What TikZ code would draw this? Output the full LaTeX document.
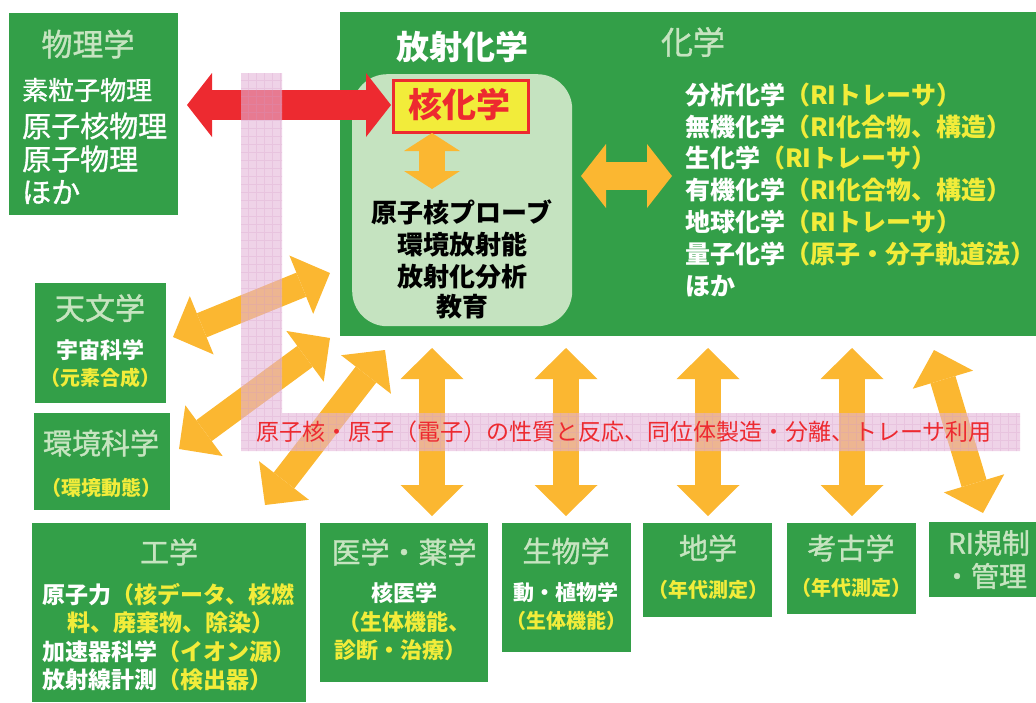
\documentclass[tikz,border=0pt]{standalone}
\usepackage{fontspec}
\setmainfont{Noto Sans CJK JP}
\newfontfamily\medfont[FakeBold=1.2]{Noto Sans CJK JP}
\usetikzlibrary{arrows.meta}
\definecolor{grn}{RGB}{51,159,72}
\definecolor{ttl}{RGB}{198,228,192}
\definecolor{lgrn}{RGB}{197,227,192}
\definecolor{ylw}{RGB}{242,236,58}
\definecolor{org}{RGB}{251,183,49}
\definecolor{rd}{RGB}{237,42,48}
\definecolor{pnk}{RGB}{228,180,216}
\definecolor{pnkline}{RGB}{212,150,198}
\newcommand\fs[1]{\fontsize{#1}{#1}\selectfont}
\begin{document}
\begin{tikzpicture}[x=1pt,y=-1pt,
  gbox/.style={fill=grn,draw=none,anchor=north west,inner sep=0pt},
  ttlt/.style={text=ttl,inner sep=0pt,font=\medfont\fs{29}},
  wl/.style={text=white,inner sep=0pt,anchor=west},
  yl/.style={text=ylw,inner sep=0pt},
  fatarrow/.style={draw=org,line width=#1,line cap=butt}
]
\useasboundingbox (0,0) rectangle (1036,702);
% boxes
\node[gbox,minimum width=169pt,minimum height=202pt] (phys) at (9,13) {};
\node[gbox,minimum width=696pt,minimum height=324pt] (chem) at (340,12) {};
\node[fill=lgrn,rounded corners=35pt,anchor=north west,minimum width=220pt,minimum height=252pt,inner sep=0pt] (radbox) at (352,74) {};
\node[fill=ylw,draw=rd,line width=3pt,anchor=north west,minimum width=135pt,minimum height=52pt,inner sep=0pt] (nucbox) at (392,79) {};
\node[gbox,minimum width=131pt,minimum height=120pt] (astro) at (35,283) {};
\node[gbox,minimum width=136pt,minimum height=97pt] (env) at (34,413) {};
\node[gbox,minimum width=274pt,minimum height=179pt] (eng) at (32,523) {};
\node[gbox,minimum width=168pt,minimum height=159pt] (med) at (320,523) {};
\node[gbox,minimum width=129pt,minimum height=129pt] (bio) at (502,523) {};
\node[gbox,minimum width=129pt,minimum height=94pt] (geo) at (643,523) {};
\node[gbox,minimum width=129pt,minimum height=91pt] (arch) at (787,523) {};
\node[gbox,minimum width=107pt,minimum height=75pt] (reg) at (929,522) {};

% coordinates for fat arrows
\coordinate (rA) at (187,105); \coordinate (rB) at (391,105);
\coordinate (sA) at (432,133); \coordinate (sB) at (432,189);
\coordinate (hA) at (581,176); \coordinate (hB) at (672,176);
\coordinate (a1) at (173,337); \coordinate (a2) at (330,273);
\coordinate (b1) at (179,449); \coordinate (b2) at (330,338);
\coordinate (c1) at (265,505); \coordinate (c2) at (385,350);
\coordinate (v1t) at (432,348); \coordinate (v1b) at (432,516);
\coordinate (v2t) at (566,348); \coordinate (v2b) at (566,516);
\coordinate (v3t) at (708,348); \coordinate (v3b) at (708,516);
\coordinate (v4t) at (852,348); \coordinate (v4b) at (852,516);
\coordinate (d1) at (934,350); \coordinate (d2) at (983,513);

% red arrow
\draw[draw=rd,line width=30pt,{Triangle[length=25pt,width=64pt,line width=0pt]}-{Triangle[length=25pt,width=64pt,line width=0pt]}] (rA) -- (rB);
% orange arrows
\draw[fatarrow=26pt,{Triangle[length=18pt,width=56pt,line width=0pt]}-{Triangle[length=18pt,width=56pt,line width=0pt]}] (sA) -- (sB);
\draw[fatarrow=28pt,{Triangle[length=25pt,width=64pt,line width=0pt]}-{Triangle[length=25pt,width=64pt,line width=0pt]}] (hA) -- (hB);
\foreach \p/\q in {a1/a2,b1/b2,c1/c2,v1t/v1b,v2t/v2b,v3t/v3b,v4t/v4b,d1/d2}{
  \draw[fatarrow=26pt,{Triangle[length=31pt,width=63pt,line width=0pt]}-{Triangle[length=31pt,width=63pt,line width=0pt]}] (\p) -- (\q);
}

% pink band
\fill[pnk,opacity=0.58] (241,73) rectangle (282,413) (241,413) rectangle (1020,451);
\begin{scope}
\clip (241,73) rectangle (282,413) (241,413) rectangle (1020,451);
\draw[pnkline,opacity=0.25,line width=0.8pt,step=8pt] (236,70) grid (1024,456);
\end{scope}
\node[anchor=west,text=rd,inner sep=0pt,font=\fs{23}] (band) at (256,432) {原子核・原子（電子）の性質と反応、同位体製造・分離、トレーサ利用};

% physics
\node[ttlt,font=\medfont\fs{31}] (tphys) at (88,44) {物理学};
\node[wl,font=\medfont\fs{26}] (p1) at (22,90) {素粒子物理};
\node[wl,font=\medfont\fs{29}] (p2) at (22,126) {原子核物理};
\node[wl,font=\medfont\fs{29}] (p3) at (22,159) {原子物理};
\node[wl,font=\medfont\fs{29}] (p4) at (22,192) {ほか};

% chemistry
\node[text=white,inner sep=0pt,font=\fs{33}\bfseries] (trad) at (462,47) {放射化学};
\node[ttlt,font=\medfont\fs{32}] (tchem) at (693,42) {化学};
\node[text=rd,inner sep=0pt,font=\fs{34}\bfseries] (tnuc) at (459,105) {核化学};
\node[inner sep=0pt,font=\fs{26}\bfseries] (k1) at (462,212) {原子核プローブ};
\node[inner sep=0pt,font=\fs{26}\bfseries] (k2) at (462,245) {環境放射能};
\node[inner sep=0pt,font=\fs{26}\bfseries] (k3) at (462,277) {放射化分析};
\node[inner sep=0pt,font=\fs{26}\bfseries] (k4) at (462,307) {教育};

\node[wl,font=\fs{25}\bfseries] (c1t) at (685,95) {分析化学{\color{ylw}（RIトレーサ）}};
\node[wl,font=\fs{25}\bfseries] (c2t) at (685,127) {無機化学{\color{ylw}（RI化合物、構造）}};
\node[wl,font=\fs{25}\bfseries] (c3t) at (685,158) {生化学{\color{ylw}（RIトレーサ）}};
\node[wl,font=\fs{25}\bfseries] (c4t) at (685,190) {有機化学{\color{ylw}（RI化合物、構造）}};
\node[wl,font=\fs{25}\bfseries] (c5t) at (685,222) {地球化学{\color{ylw}（RIトレーサ）}};
\node[wl,font=\fs{25}\bfseries] (c6t) at (685,254) {量子化学{\color{ylw}（原子・分子軌道法）}};
\node[wl,font=\fs{25}\bfseries] (c7t) at (685,286) {ほか};

% astronomy / environment
\node[ttlt,font=\medfont\fs{30}] (tastro) at (100,308) {天文学};
\node[text=white,inner sep=0pt,font=\fs{22}\bfseries] (as1) at (100,350) {宇宙科学};
\node[yl,font=\fs{20}\bfseries] (as2) at (100,378) {（元素合成）};
\node[ttlt] (tenv) at (101,443) {環境科学};
\node[yl,font=\fs{20}\bfseries] (en1) at (101,488) {（環境動態）};

% engineering
\node[ttlt] (teng) at (169,552) {工学};
\node[wl,font=\fs{23}\bfseries] (e1) at (42,595) {原子力{\color{ylw}（核データ、核燃}};
\node[wl,font=\fs{23}\bfseries,text=ylw] (e2) at (67,623) {料、廃棄物、除染）};
\node[wl,font=\fs{23}\bfseries] (e3) at (42,652) {加速器科学{\color{ylw}（イオン源）}};
\node[wl,font=\fs{23}\bfseries] (e4) at (42,680) {放射線計測{\color{ylw}（検出器）}};

% medicine
\node[ttlt] (tmed) at (404,552) {医学・薬学};
\node[text=white,inner sep=0pt,font=\fs{22}\bfseries] (m1) at (404,593) {核医学};
\node[yl,font=\fs{22}\bfseries] (m2) at (404,622) {（生体機能、};
\node[yl,font=\fs{22}\bfseries] (m3) at (400,650) {診断・治療）};

% biology
\node[ttlt] (tbio) at (566,551) {生物学};
\node[text=white,inner sep=0pt,font=\fs{21}\bfseries] (b1t) at (566,593) {動・植物学};
\node[yl,font=\fs{20}\bfseries] (b2t) at (566,621) {（生体機能）};

% geology, archaeology
\node[ttlt] (tgeo) at (708,548) {地学};
\node[yl,font=\fs{20}\bfseries] (g1) at (708,590) {（年代測定）};
\node[ttlt] (tarch) at (851,548) {考古学};
\node[yl,font=\fs{20}\bfseries] (ar1) at (851,588) {（年代測定）};

% regulation
\node[ttlt,font=\medfont\fs{28}] (treg1) at (989,543) {RI規制};
\node[ttlt,font=\medfont\fs{28}] (treg2) at (985,576) {・管理};
\end{tikzpicture}
\end{document}
